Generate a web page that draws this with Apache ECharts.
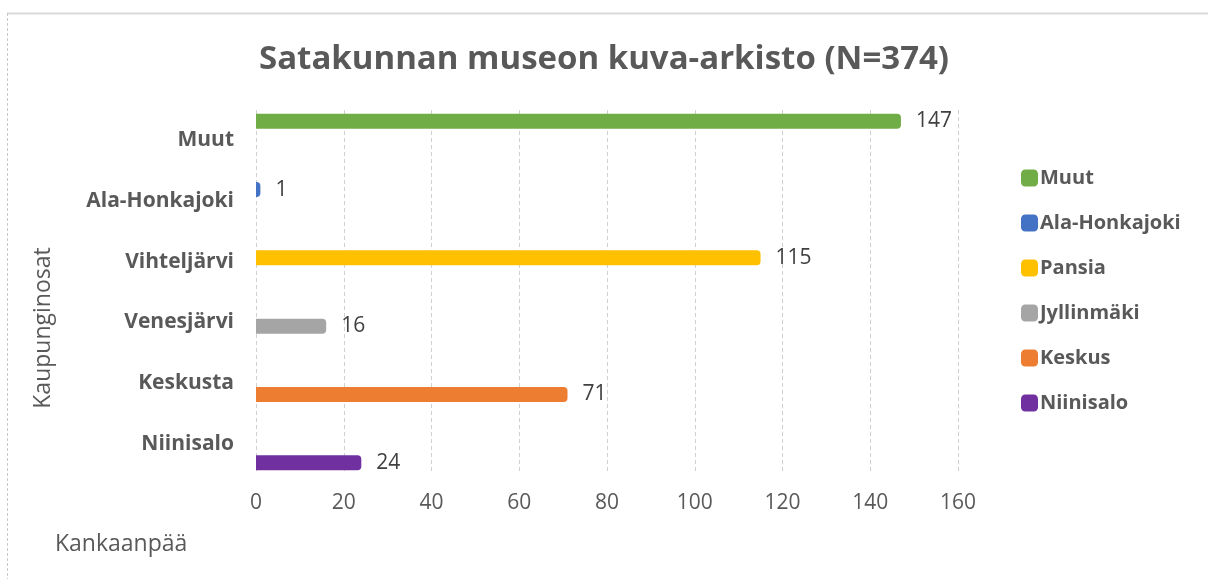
<!DOCTYPE html>
<html>
<head>
<meta charset="utf-8">
<script src="https://cdn.jsdelivr.net/npm/echarts@6/dist/echarts.min.js"></script>
<style>
html,body{margin:0;padding:0;background:#fff;}
#main{width:1208px;height:579px;}
</style>
</head>
<body>
<div id="main"></div>
<script>
const categories = ['Niinisalo', 'Keskusta', 'Venesjärvi', 'Vihteljärvi', 'Ala-Honkajoki', 'Muut'];
const seriesNames = ['Muut', 'Ala-Honkajoki', 'Pansia', 'Jyllinmäki', 'Keskus', 'Niinisalo'];
const seriesCategory = ['Muut', 'Ala-Honkajoki', 'Vihteljärvi', 'Venesjärvi', 'Keskusta', 'Niinisalo'];
const seriesValues = [147, 1, 115, 16, 71, 24];
const seriesColors = ['#70AD47', '#4472C4', '#FFC000', '#A5A5A5', '#ED7D31', '#7030A0'];
const xTicks = [0, 20, 40, 60, 80, 100, 120, 140, 160];

const FONT = 'Open Sans';
const TXT = '#595959';

const series = seriesNames.map((name, i) => ({
  name: name,
  type: 'bar',
  barWidth: 15,
  barGap: '-49%',
  data: categories.map(c => c === seriesCategory[i] ? seriesValues[i] : '-'),
  itemStyle: { color: seriesColors[i], borderRadius: [0, 4, 4, 0] },
  label: {
    show: true, position: 'right', distance: 15,
    color: '#404040', fontFamily: FONT, fontSize: 21
  }
}));

const chart = echarts.init(document.getElementById('main'), null, { renderer: 'canvas' });
chart.setOption({
  animation: false,
  backgroundColor: '#fff',
  title: {
    text: 'Satakunnan museon kuva-arkisto (N=374)',
    left: 'center', top: 38,
    textStyle: { fontFamily: FONT, fontSize: 33, fontWeight: 'bold', color: TXT }
  },
  legend: {
    orient: 'vertical',
    left: 1016, top: 163,
    itemWidth: 17, itemHeight: 17, itemGap: 25,
    icon: 'roundRect',
    data: seriesNames,
    textStyle: { fontFamily: FONT, fontSize: 20, fontWeight: 'bold', color: TXT, lineHeight: 18, padding: [0, 0, 0, -3] }
  },
  grid: { left: 256, right: 250, top: 110, bottom: 105 },
  xAxis: {
    type: 'value', min: xTicks[0], max: xTicks[xTicks.length - 1], interval: 20,
    axisLine: { show: false }, axisTick: { show: false },
    axisLabel: { fontFamily: FONT, fontSize: 21, color: TXT, margin: 19 },
    splitLine: { show: true, lineStyle: { color: '#d0d0d0', type: [4, 3], width: 1 } }
  },
  yAxis: {
    type: 'category', data: categories,
    axisLine: { show: false }, axisTick: { show: false },
    axisLabel: { fontFamily: FONT, fontSize: 21, fontWeight: 'bold', color: TXT, margin: 22 }
  },
  graphic: [
    { type: 'line', shape: { x1: 7, y1: 13.5, x2: 1208, y2: 13.5 }, style: { stroke: '#d9d9d9', lineWidth: 2 } },
    { type: 'line', shape: { x1: 7.5, y1: 13, x2: 7.5, y2: 579 }, style: { stroke: '#c8c8c8', lineWidth: 1, lineDash: [3, 2] } },
    { type: 'text', x: 43, y: 328, rotation: Math.PI / 2,
      style: { text: 'Kaupunginosat', fontFamily: FONT, fontSize: 23, fill: TXT, align: 'center', verticalAlign: 'middle' } },
    { type: 'text', left: 55, top: 533, style: { text: 'Kankaanpää', fontFamily: FONT, fontSize: 23, fill: TXT } }
  ],
  series: series
});
</script>
</body>
</html>
